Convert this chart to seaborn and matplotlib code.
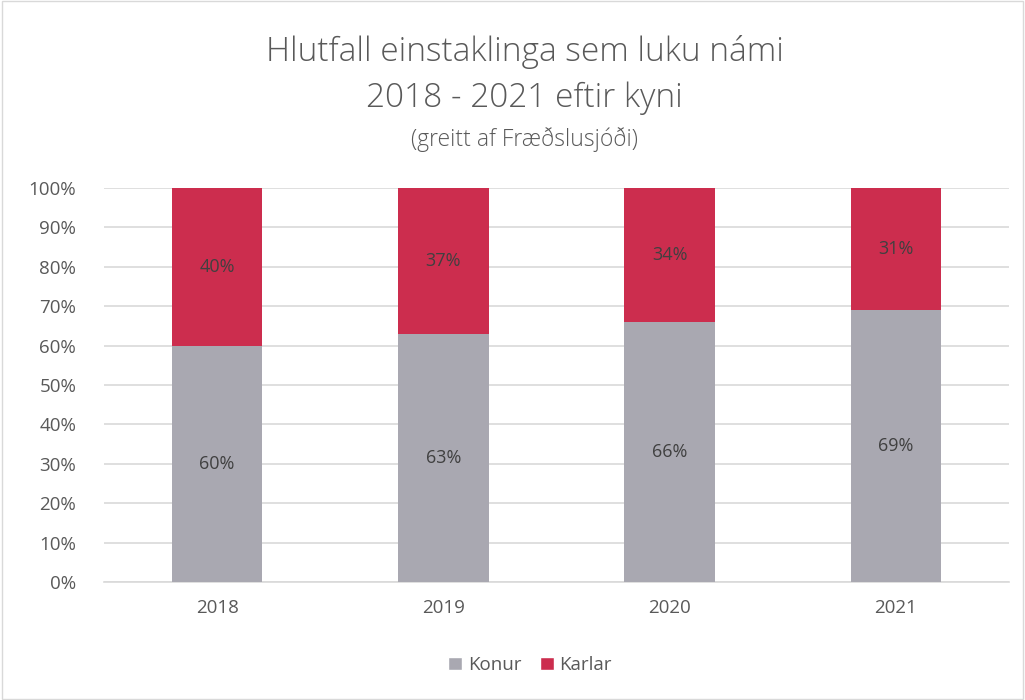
import matplotlib
matplotlib.use("Agg")
import matplotlib.pyplot as plt
import seaborn as sns
import pandas as pd
from matplotlib.patches import Rectangle, Patch

years = ["2018", "2019", "2020", "2021"]
konur = [60, 63, 66, 69]
karlar = [40, 37, 34, 31]
y_ticks = [0, 10, 20, 30, 40, 50, 60, 70, 80, 90, 100]
y_tick_labels = [f"{t}%" for t in y_ticks]

gray = "#A9A8B1"
red = "#CC2D4E"
txt = "#595959"

sns.set_theme(style="white")
plt.rcParams['font.family'] = ['Open Sans', 'DejaVu Sans']

df = pd.DataFrame({"year": years, "Konur": konur, "Karlar": karlar})
df["total"] = df["Konur"] + df["Karlar"]

fig = plt.figure(figsize=(10.25, 7), dpi=100)
ax = fig.add_axes([104/1025, 1-582/700, 905/1025, 394/700])

sns.barplot(data=df, x="year", y="total", color=red, width=0.4, ax=ax, saturation=1, zorder=2, linewidth=0)
sns.barplot(data=df, x="year", y="Konur", color=gray, width=0.4, ax=ax, saturation=1, zorder=3, linewidth=0)

for i, (k, m) in enumerate(zip(konur, karlar)):
    ax.text(i, k/2, f"{k}%", ha="center", va="center", fontsize=13, color="#404040", zorder=4)
    ax.text(i, k + m/2, f"{m}%", ha="center", va="center", fontsize=13, color="#404040", zorder=4)

ax.set_ylim(0, 100)
ax.set_xlim(-0.5, 3.5)
ax.set_yticks(y_ticks)
ax.set_yticklabels(y_tick_labels, fontsize=13.5, color=txt)
ax.tick_params(axis='x', labelsize=13.5, labelcolor=txt, length=0, pad=12)
ax.tick_params(axis='y', length=0, pad=20)
ax.set_xlabel("")
ax.set_ylabel("")
ax.yaxis.grid(True, color="#D9D9D9", linewidth=1.2, zorder=0)
ax.set_axisbelow(True)
for s in ["top", "right", "left"]:
    ax.spines[s].set_visible(False)
ax.spines["bottom"].set_color("#D9D9D9")
ax.spines["bottom"].set_linewidth(1.2)

fig.text(0.512, 1-52/700, "Hlutfall einstaklinga sem luku námi", ha="center", va="center", fontsize=24, color=txt, fontweight="light")
fig.text(0.512, 1-98/700, "2018 - 2021 eftir kyni", ha="center", va="center", fontsize=24, color=txt, fontweight="light")
fig.text(0.512, 1-140/700, "(greitt af Fræðslusjóði)", ha="center", va="center", fontsize=16.5, color=txt, fontweight="light")

handles = [Patch(facecolor=gray, label="Konur"), Patch(facecolor=red, label="Karlar")]
leg = fig.legend(handles=handles, loc="center", bbox_to_anchor=(530/1025, 1-665/700), ncol=2,
                 frameon=False, fontsize=13.5, handlelength=0.75, handleheight=0.75, handletextpad=0.3, columnspacing=1.0)
for t in leg.get_texts():
    t.set_color(txt)

fig.patches.append(Rectangle((0.002, 0.002), 0.996, 0.996, transform=fig.transFigure, fill=False,
                             edgecolor="#D9D9D9", linewidth=1))

fig.savefig("out.png", dpi=100, facecolor="white")
